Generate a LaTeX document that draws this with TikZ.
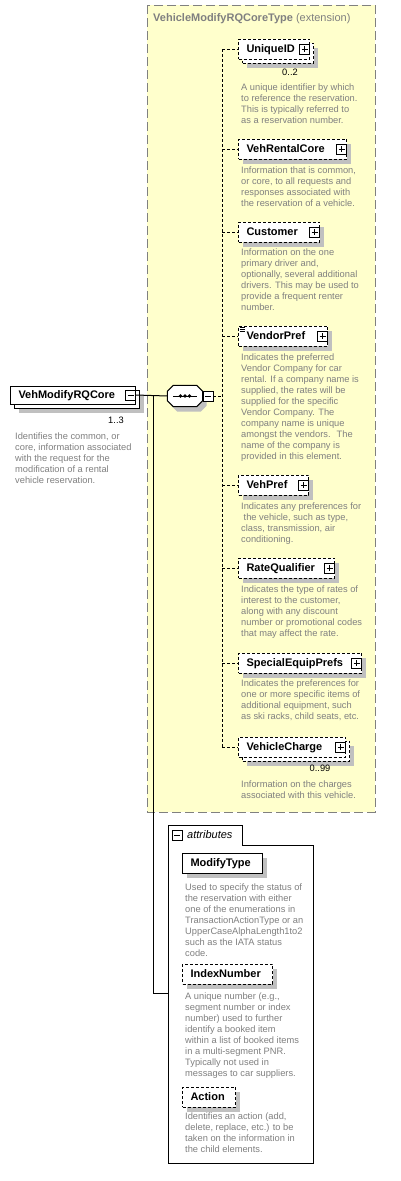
\documentclass[tikz,border=0pt]{standalone}
\usepackage{fontspec}
\setmainfont{Liberation Sans}
\usetikzlibrary{shadows}

\definecolor{extfill}{HTML}{FFFFCC}
\definecolor{extline}{HTML}{808080}
\definecolor{txtgrey}{HTML}{808080}
\definecolor{shgrey}{HTML}{C0C0C0}

\newcommand\lblfont{\fontsize{11}{13}\selectfont\bfseries}
\newcommand\descfont{\fontsize{9.3}{11}\selectfont}

\tikzset{
  shadowed/.style={drop shadow={shadow xshift=4pt,shadow yshift=-5pt,fill=shgrey,opacity=1}},
  elem/.style={draw, fill=white, line width=1pt, anchor=west, minimum height=20pt,
    inner xsep=8pt, inner ysep=0pt, text width=#1, align=left, font=\lblfont,
    text height=8pt, text depth=2pt},
  optelem/.style={elem=#1, dash pattern=on 3pt off 2pt},
  descr/.style={anchor=north west, inner sep=0pt, align=left, font=\descfont, text=txtgrey},
  card/.style={inner sep=0pt, font=\descfont},
  minusbox/.style={draw, fill=white, line width=0.8pt, minimum size=10pt, inner sep=0pt,
    path picture={\draw[line width=0.8pt]
      ([xshift=2pt]path picture bounding box.west) -- ([xshift=-2pt]path picture bounding box.east);}},
  plusbox/.style={draw, fill=white, line width=0.8pt, minimum size=10pt, inner sep=0pt,
    path picture={\draw[line width=0.8pt]
      ([xshift=2pt]path picture bounding box.west) -- ([xshift=-2pt]path picture bounding box.east)
      ([yshift=-2pt]path picture bounding box.north) -- ([yshift=2pt]path picture bounding box.south);}},
  link/.style={line width=1pt},
  dashlink/.style={line width=1pt, dash pattern=on 3pt off 2pt},
}

\begin{document}
\begin{tikzpicture}[x=1pt,y=-1pt]
  \useasboundingbox (0,0) rectangle (401,1181);
  \fill[white] (0,0) rectangle (401,1181);
  % extension frame
  \draw[fill=extfill, draw=extline, line width=1pt, dash pattern=on 9pt off 4pt] (147,5) rectangle (375,812);
  \node[anchor=west, inner sep=0pt, text=txtgrey, font=\fontsize{11}{13}\selectfont] (exttitle) at (153,19)
    {\textbf{VehicleModifyRQCoreType} (extension)};

  % root element
  \node[elem=109pt, minimum height=18pt, shadowed] (rootback) at (14,399) {};
  \node[elem=109pt, minimum height=18pt] (root) at (10,395) {VehModifyRQCore};
  \node[minusbox] (rootx) at ([xshift=-5.5pt]root.east) {};
  \node[card] (rootcard) at (116,420) {1..3};
  \node[descr] (rootdesc) at (15,432.5) {Identifies the common, or\\ core, information associated\\ with the request for the\\ modification of a rental\\ vehicle reservation.};

  % sequence
  \node[minimum width=35pt, minimum height=21pt, inner sep=0pt] (seq) at (185,396) {};
  \draw[line width=1pt, fill=white, shadowed]
    ([shift={(6,0)}]seq.north west) -- ([shift={(-6,0)}]seq.north east) -- ([shift={(0,6)}]seq.north east)
    -- ([shift={(0,-6)}]seq.south east) -- ([shift={(-6,0)}]seq.south east) -- ([shift={(6,0)}]seq.south west)
    -- ([shift={(0,-6)}]seq.south west) -- ([shift={(0,6)}]seq.north west) -- cycle;
  \draw[line width=1pt] ([xshift=-12pt]seq.center) -- ([xshift=12pt]seq.center);
  \foreach \d in {-4.5,0,4.5}
    \fill ([xshift=\d pt]seq.center) circle (1.8);
  \node[minusbox] (seqx) at (208,396) {};

  \coordinate (fork) at (153,395);
  \coordinate (spine) at (222,396);
  \coordinate (attjoin) at (168,993);
  \draw[link] (root.east) -- (seq.west);
  \draw[link] (fork) |- (attjoin);
  \draw[dashlink] (seqx.east) -- (spine);

  % child elements
  \node[optelem=55pt, shadowed] (uidback) at (242,53) {};
  \node[optelem=55pt] (uid) at (238,49) {UniqueID};
  \node[plusbox] (uidx) at ([xshift=-5.5pt]uid.east) {};
  \node[card] (uidcard) at (290,72) {0..2};
  \node[descr] (uiddesc) at (241,83.5) {A unique identifier by which\\ to reference the reservation.\\ This is typically referred to\\ as a reservation number.};

  \node[optelem=92pt, shadowed] (vrc) at (238,149) {VehRentalCore};
  \node[plusbox] (vrcx) at ([xshift=-5.5pt]vrc.east) {};
  \node[descr] (vrcdesc) at (241,166.5) {Information that is common,\\ or core, to all requests and\\ responses associated with\\ the reservation of a vehicle.};

  \node[optelem=65pt, shadowed] (cus) at (238,232) {Customer};
  \node[plusbox] (cusx) at ([xshift=-5.5pt]cus.east) {};
  \node[descr] (cusdesc) at (241,248.5) {Information on the one\\ primary driver and,\\ optionally, several additional\\ drivers. This may be used to\\ provide a frequent renter\\ number.};

  \node[optelem=73pt, shadowed] (vnd) at (238,336) {VendorPref};
  \node[plusbox] (vndx) at ([xshift=-5.5pt]vnd.east) {};
  \foreach \k in {0,2,4}
    \draw[line width=0.7pt] ([shift={(1.5,1.5+\k)}]vnd.north west) -- ++(5,0);
  \node[descr] (vnddesc) at (241,353.5) {Indicates the preferred\\ Vendor Company for car\\ rental. If a company name is\\ supplied, the rates will be\\ supplied for the specific\\ Vendor Company. The\\ company name is unique\\ amongst the vendors.~ The\\ name of the company is\\ provided in this element.};

  \node[optelem=54pt, shadowed] (vpf) at (238,485) {VehPref};
  \node[plusbox] (vpfx) at ([xshift=-5.5pt]vpf.east) {};
  \node[descr] (vpfdesc) at (241,502.5) {Indicates any preferences for\\ \hspace{2.5pt}the vehicle, such as type,\\ class, transmission, air\\ conditioning.};

  \node[optelem=80pt, shadowed] (rtq) at (238,568) {RateQualifier};
  \node[plusbox] (rtqx) at ([xshift=-5.5pt]rtq.east) {};
  \node[descr] (rtqdesc) at (241,585.5) {Indicates the type of rates of\\ interest to the customer,\\ along with any discount\\ number or promotional codes\\ that may affect the rate.};

  \node[optelem=107pt, shadowed] (spe) at (238,663) {SpecialEquipPrefs};
  \node[plusbox] (spex) at ([xshift=-5.5pt]spe.east) {};
  \node[descr] (spedesc) at (241,679.5) {Indicates the preferences for\\ one or more specific items of\\ additional equipment, such\\ as ski racks, child seats, etc.};

  \node[optelem=91pt, shadowed] (vchback) at (242,751) {};
  \node[optelem=91pt] (vch) at (238,747) {VehicleCharge};
  \node[plusbox] (vchx) at ([xshift=-5.5pt]vch.east) {};
  \node[card] (vchcard) at (320,768) {0..99};
  \node[descr] (vchdesc) at (241,780.5) {Information on the charges\\ associated with this vehicle.};

  \draw[dashlink] (uid.west -| spine) -- (vch.west -| spine);
  \foreach \n in {uid,vrc,cus,vnd,vpf,rtq,spe,vch}
    \draw[dashlink] (\n.west -| spine) -- (\n.west);

  % attributes
  \draw[link, fill=white] (168,1163) -- (168,825) -- (242,825) -- (242,845) -- (313,845) -- (313,1163) -- cycle;
  \node[minusbox] (attx) at (177,835) {};
  \node[anchor=west, inner sep=0pt, font=\fontsize{11}{13}\selectfont\itshape] (attlbl) at (187,835) {attributes};

  \node[elem=64pt, shadowed] (mtype) at (182,863) {ModifyType};
  \node[descr] (mtypedesc) at (185,883.5) {Used to specify the status of\\ the reservation with either\\ one of the enumerations in\\ TransactionActionType or an\\ UpperCaseAlphaLength1to2\\ such as the IATA status\\ code.};

  \node[optelem=74pt, shadowed] (idxnum) at (182,974) {IndexNumber};
  \node[descr] (idxnumdesc) at (185,992.5) {A unique number (e.g.,\\ segment number or index\\ number) used to further\\ identify a booked item\\ within a list of booked items\\ in a multi-segment PNR.\\ Typically not used in\\ messages to car suppliers.};

  \node[optelem=37pt, shadowed] (act) at (182,1097) {Action};
  \node[descr] (actdesc) at (185,1112.5) {Identifies an action (add,\\ delete, replace, etc.) to be\\ taken on the information in\\ the child elements.};
\end{tikzpicture}
\end{document}
